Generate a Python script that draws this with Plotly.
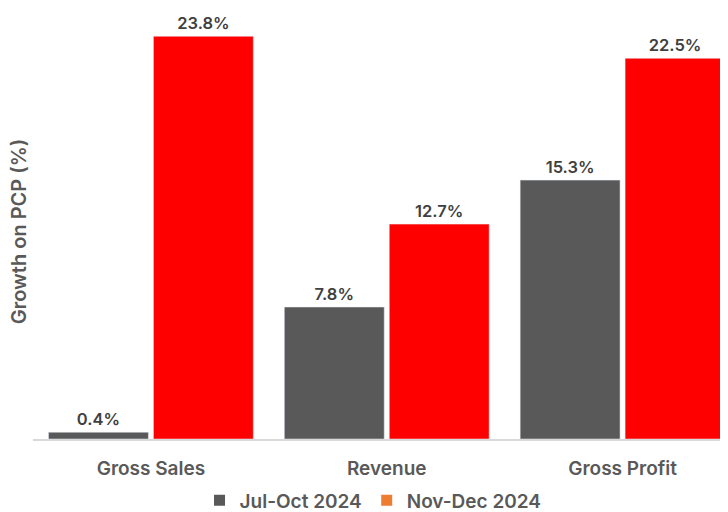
import plotly.graph_objects as go

categories = ["Gross Sales", "Revenue", "Gross Profit"]
series_names = ["Jul-Oct 2024", "Nov-Dec 2024"]
jul_oct = [0.4, 7.8, 15.3]
nov_dec = [23.8, 12.7, 22.5]

bar_colors = ["#595959", "#FF0000"]
legend_colors = ["#595959", "#ED7D31"]
FONT = "Inter"

fig = go.Figure()
for name, vals, col in zip(series_names, [jul_oct, nov_dec], bar_colors):
    fig.add_trace(go.Bar(
        x=categories, y=vals, name=name, marker_color=col,
        text=[f"{v:.1f}%" for v in vals], textposition="outside",
        textfont=dict(family=FONT, size=16.5, color="#404040", weight=600),
        cliponaxis=False, showlegend=False,
    ))
for name, col in zip(series_names, legend_colors):
    fig.add_trace(go.Scatter(
        x=[None], y=[None], mode="markers", name=name,
        marker=dict(symbol="square", size=11, color=col),
    ))

fig.update_layout(
    width=720, height=504,
    margin=dict(l=24.5, r=0, t=8, b=73, autoexpand=False),
    paper_bgcolor="white", plot_bgcolor="white",
    barmode="group", bargap=0.11, bargroupgap=0.048,
    font=dict(family=FONT, color="#595959"),
    legend=dict(orientation="h", xref="container", x=0.266, xanchor="left",
                yref="paper", y=-0.145, yanchor="middle",
                font=dict(family=FONT, size=19, color="#595959", weight=600),
                itemwidth=30),
    xaxis=dict(range=[-0.5, 2.447], showline=True, linecolor="#D9D9D9", linewidth=1.5,
               ticks="outside", ticklen=11, tickcolor="rgba(0,0,0,0)",
               tickfont=dict(family=FONT, size=19, color="#595959", weight=600),
               showgrid=False, automargin=False),
    yaxis=dict(range=[0, 25], showticklabels=False, showgrid=False, zeroline=False,
               showline=False, automargin=False),
    annotations=[dict(text="Growth on PCP (%)", xref="paper", yref="paper",
                      x=-0.0208, y=0.49, xanchor="center", yanchor="middle",
                      textangle=-90, showarrow=False,
                      font=dict(family=FONT, size=20, color="#595959", weight=600))],
)

fig.write_html("out.html")
